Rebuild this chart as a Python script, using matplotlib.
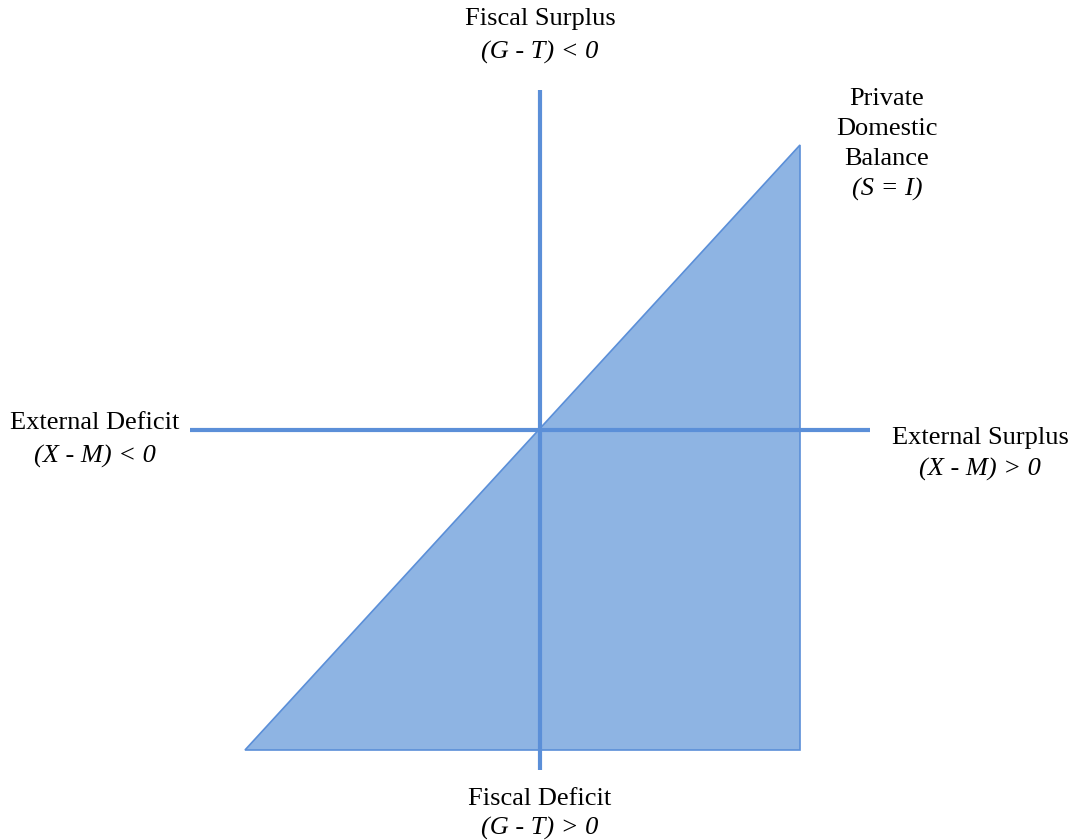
import matplotlib
matplotlib.use("Agg")

import matplotlib.pyplot as plt

plt.rcParams["font.family"] = ["Liberation Serif", "DejaVu Serif"]

# sector balance diagram, origin = where the two axes cross
triangle_x = [-295, 260, 260]
triangle_y = [-320, 285, -320]

vline_y = [-340, 340]
hline_x = [-350, 330]

fill_color = "#8eb4e3"
line_color = "#5b8fd8"

def label(ax, x, y, top, bottom, dy=32):
    lines = top.split("\n")
    for i, s in enumerate(lines):
        ax.text(x, y - i * dy, s, ha="center", va="center", fontsize=19)
    ax.text(x, y - len(lines) * dy, bottom, ha="center", va="center",
            fontsize=19, style="italic")

def main():
    fig = plt.figure(figsize=(10.73, 8.4), dpi=100)
    ax = fig.add_axes([0, 0, 1, 1])
    ax.set_xlim(-540, 533)
    ax.set_ylim(-410, 430)
    ax.axis("off")

    ax.fill(triangle_x, triangle_y, facecolor=fill_color,
            edgecolor=line_color, lw=1.2, zorder=1)
    ax.plot([0, 0], vline_y, c=line_color, lw=3, solid_capstyle="butt", zorder=2)
    ax.plot(hline_x, [0, 0], c=line_color, lw=3, solid_capstyle="butt", zorder=2)

    label(ax, 0, 411, "Fiscal Surplus", "(G - T) < 0", dy=33)
    label(ax, 0, -369, "Fiscal Deficit", "(G - T) > 0", dy=29)
    label(ax, -445, 7, "External Deficit", "(X - M) < 0", dy=33)
    label(ax, 440, -8, "External Surplus", "(X - M) > 0", dy=31)
    label(ax, 347, 331, "Private\nDomestic\nBalance", "(S = I)", dy=30)

    fig.savefig("out.png", dpi=100)

if __name__ == "__main__": main()
